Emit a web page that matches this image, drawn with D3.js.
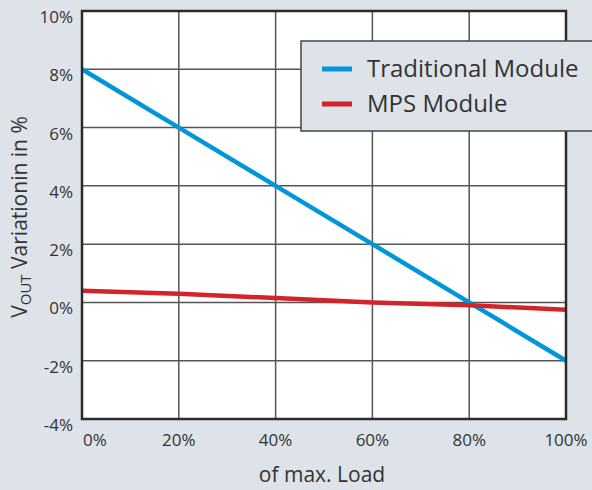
<!DOCTYPE html>
<html><head><meta charset="utf-8">
<script src="https://cdn.jsdelivr.net/npm/d3@7"></script>
<style>body{margin:0;background:#dde3e9;}svg{display:block;font-family:"Open Sans",sans-serif;}</style>
</head><body>
<script>
const loads = [0, 20, 40, 60, 80, 100];
const traditional = [8, 6, 4, 2, 0, -2];
const mps = [0.4, 0.3, 0.15, 0.0, -0.1, -0.25];
const yTicks = [-4, -2, 0, 2, 4, 6, 8, 10];
const xTicks = [0, 20, 40, 60, 80, 100];
const seriesNames = ["Traditional Module", "MPS Module"];
const seriesColors = ["#0096d8", "#d3232b"];

const W = 592, H = 490;
const m = {left: 82, right: 26, top: 11, bottom: 71};
const svg = d3.select("body").append("svg").attr("width", W).attr("height", H);
svg.append("rect").attr("width", W).attr("height", H).attr("fill", "#dde3e9");

const x = d3.scaleLinear().domain([0, 100]).range([m.left, W - m.right]);
const y = d3.scaleLinear().domain([-4, 10]).range([H - m.bottom, m.top]);

svg.append("rect").attr("x", x(0)).attr("y", y(10)).attr("width", x(100) - x(0)).attr("height", y(-4) - y(10)).attr("fill", "#fff");

// grid
svg.append("g").selectAll("line").data(xTicks.slice(1, -1)).join("line")
  .attr("x1", d => x(d)).attr("x2", d => x(d)).attr("y1", y(10)).attr("y2", y(-4))
  .attr("stroke", "#555").attr("stroke-width", 1.5);
svg.append("g").selectAll("line").data(yTicks.slice(1, -1)).join("line")
  .attr("y1", d => y(d)).attr("y2", d => y(d)).attr("x1", x(0)).attr("x2", x(100))
  .attr("stroke", "#555").attr("stroke-width", 1.5);

// lines
const line = d3.line().x((d, i) => x(loads[i])).y(d => y(d));
[traditional, mps].forEach((s, i) => {
  svg.append("path").datum(s).attr("d", line).attr("fill", "none")
    .attr("stroke", seriesColors[i]).attr("stroke-width", 4.5);
});

// frame
svg.append("rect").attr("x", x(0)).attr("y", y(10)).attr("width", x(100) - x(0)).attr("height", y(-4) - y(10))
  .attr("fill", "none").attr("stroke", "#2a2a2a").attr("stroke-width", 2.5);

// y tick labels
svg.append("g").selectAll("text").data(yTicks).join("text")
  .attr("x", x(0) - 9).attr("y", d => y(d) + 12).attr("text-anchor", "end")
  .attr("font-size", 17).attr("fill", "#333").text(d => d + "%");

// x tick labels
svg.append("g").selectAll("text").data(xTicks).join("text")
  .attr("x", d => d === 0 ? x(d) + 1 : x(d)).attr("y", 446)
  .attr("text-anchor", d => d === 0 ? "start" : "middle")
  .attr("font-size", 17).attr("fill", "#333").text(d => d + "%");

// axis titles
svg.append("text").attr("x", 322).attr("y", 482).attr("text-anchor", "middle")
  .attr("font-size", 21).attr("fill", "#333").text("of max. Load");
const yt = svg.append("text").attr("transform", "translate(27,217) rotate(-90)")
  .attr("text-anchor", "middle").attr("font-size", 21).attr("fill", "#333");
yt.append("tspan").text("V");
yt.append("tspan").attr("font-size", 15).attr("dy", 4).text("OUT");
yt.append("tspan").attr("dy", -4).text(" Variationin in %");

// legend
const lg = svg.append("g");
lg.append("rect").attr("x", 301).attr("y", 41).attr("width", 320).attr("height", 90)
  .attr("fill", "#dde3e9").attr("stroke", "#444").attr("stroke-width", 1.5);
seriesNames.forEach((n, i) => {
  const yy = 69 + i * 35;
  lg.append("line").attr("x1", 322).attr("x2", 352).attr("y1", yy).attr("y2", yy)
    .attr("stroke", seriesColors[i]).attr("stroke-width", 5);
  lg.append("text").attr("x", 367).attr("y", yy + 8).attr("font-size", 24).attr("fill", "#333").text(n);
});
</script>
</body></html>
